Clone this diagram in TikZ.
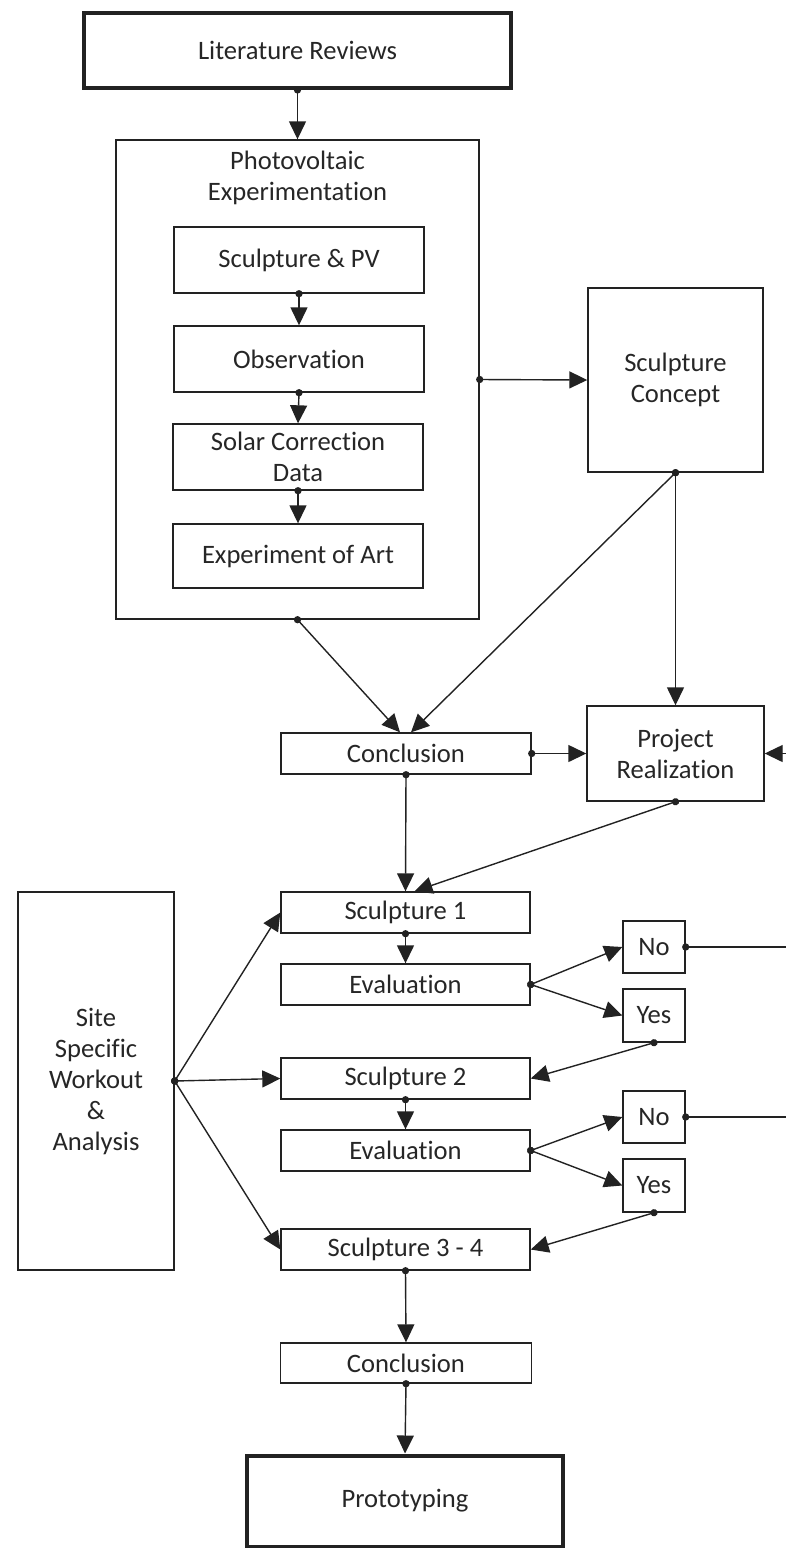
\documentclass[tikz,border=0pt]{standalone}
\usepackage{fontspec}
\setmainfont{Carlito}[Ligatures={NoCommon}]
\usetikzlibrary{arrows.meta,calc}
\definecolor{ln}{HTML}{222222}
\definecolor{txt}{HTML}{262626}
\begin{document}
\begin{tikzpicture}[x=0.5pt,y=-0.5pt,
  every node/.style={font=\fontsize{13.3pt}{15.5pt}\selectfont, text=txt},
  box/.style 2 args={draw=ln, line width=0.7pt, inner sep=0pt, align=center,
    minimum width=#1*0.5pt, minimum height=#2*0.5pt},
  thickbox/.style 2 args={box={#1}{#2}, line width=2pt},
  conn/.style={draw=ln, line width=0.7pt, {Circle[length=3.6pt]}-{Triangle[length=9pt,width=8.5pt]}, shorten <=-1.8pt},
  feed/.style={draw=ln, line width=0.7pt, -{Triangle[length=9pt,width=8.5pt]}},
  tail/.style={draw=ln, line width=0.7pt, {Circle[length=3.6pt]}-, shorten <=-1.8pt}]
\useasboundingbox (0,0) rectangle (786,1548);
% nodes
\node[thickbox={427}{75}] (lit) at (297.5,50.5) {Literature Reviews};
\node[box={363}{479}] (pv) at (297.5,379.5) {};
\node[align=center] (pvt) at (297.5,178) {Photovoltaic\\Experimentation};
\node[box={250}{66}] (scpv) at (299,260) {Sculpture \& PV};
\node[box={250}{66}] (obs) at (299,359) {Observation};
\node[box={250}{66}] (solar) at (298,457) {Solar Correction\\Data};
\node[box={250}{64}] (expart) at (298,556) {Experiment of Art};
\node[box={175}{184}] (sc) at (675.5,380) {Sculpture\\Concept};
\node[box={250}{41}] (c1) at (406,753.5) {Conclusion};
\node[box={177}{95}] (pr) at (675.5,753.5) {Project\\Realization};
\node[box={156}{378}] (site) at (96,1081) {Site\\Specific\\Workout\\\&\\Analysis};
\node[box={249}{41}] (s1) at (405.5,912.5) {Sculpture 1};
\node[box={249}{41}] (e1) at (405.5,984.5) {Evaluation};
\node[box={62}{52}] (no1) at (654,947) {No};
\node[box={62}{53}] (yes1) at (654,1015.5) {Yes};
\node[box={249}{41}] (s2) at (405.5,1078.5) {Sculpture 2};
\node[box={249}{41}] (e2) at (405.5,1150.5) {Evaluation};
\node[box={62}{52}] (no2) at (654,1117) {No};
\node[box={62}{53}] (yes2) at (654,1185.5) {Yes};
\node[box={249}{41}] (s34) at (405.5,1249.5) {Sculpture 3 - 4};
\node[box={251}{40}] (c2) at (406,1363) {Conclusion};
\node[thickbox={316}{91}] (proto) at (405,1501) {Prototyping};
\coordinate (prR) at (786,753.5);
\coordinate (no1R) at (786,947);
\coordinate (no2R) at (786,1117);
% connectors
\draw[conn] (lit.south) -- (pv.north);
\draw[conn] (scpv.south) -- (obs.north);
\draw[conn] (obs.south) -- (solar.north);
\draw[conn] (solar.south) -- (expart.north);
\draw[conn] (pv.east) -- (sc.west);
\draw[conn] (pv.south) -- ($(c1.north)+(-6,0)$);
\draw[conn] (sc.south) -- ($(c1.north)+(5,0)$);
\draw[conn] (sc.south) -- (pr.north);
\draw[conn] (c1.east) -- (pr.west);
\draw[feed] (prR) -- (pr.east);
\draw[conn] (c1.south) -- (s1.north);
\draw[conn] (pr.south) -- ($(s1.north)+(9,0)$);
\draw[conn] (site.east) -- (s1.west);
\draw[conn] (site.east) -- (s2.west);
\draw[conn] (site.east) -- (s34.west);
\draw[conn] (s1.south) -- (e1.north);
\draw[conn] (e1.east) -- (no1.west);
\draw[conn] (e1.east) -- (yes1.west);
\draw[tail] (no1.east) -- (no1R);
\draw[conn] (yes1.south) -- (s2.east);
\draw[conn] (s2.south) -- (e2.north);
\draw[conn] (e2.east) -- (no2.west);
\draw[conn] (e2.east) -- (yes2.west);
\draw[tail] (no2.east) -- (no2R);
\draw[conn] (yes2.south) -- (s34.east);
\draw[conn] (s34.south) -- (c2.north);
\draw[conn] (c2.south) -- (proto.north);
\end{tikzpicture}
\end{document}
